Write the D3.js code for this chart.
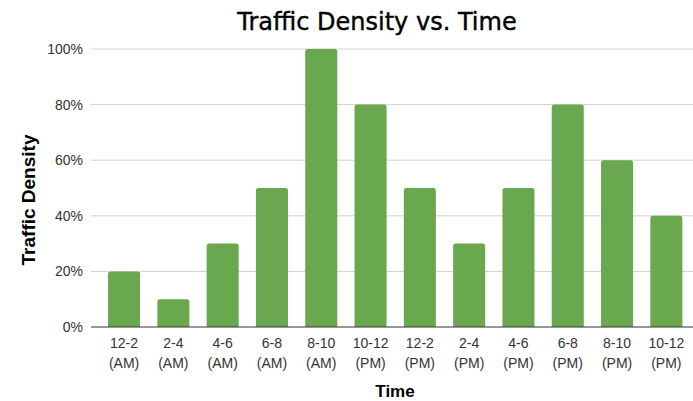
<!DOCTYPE html>
<html><head><meta charset="utf-8">
<script src="https://cdn.jsdelivr.net/npm/d3@7"></script>
<style>body{margin:0;background:#fff}svg{display:block}</style>
</head><body>
<svg id="c" width="693" height="401"></svg>
<script>
const categories = ["12-2 (AM)","2-4 (AM)","4-6 (AM)","6-8 (AM)","8-10 (AM)","10-12 (PM)","12-2 (PM)","2-4 (PM)","4-6 (PM)","6-8 (PM)","8-10 (PM)","10-12 (PM)"];
const values = [20,10,30,50,100,80,50,30,50,80,60,40];
const yTicks = [0,20,40,60,80,100];

const FONT = "'Liberation Sans', Arial, sans-serif";
const svg = d3.select("#c");
const x = d3.scaleBand().domain(d3.range(categories.length)).range([99.4,691]).paddingInner(0.35).paddingOuter(0.175);
const y = d3.scaleLinear().domain([0,100]).range([327,49]);

// grid
svg.append("g").selectAll("line").data(yTicks.filter(d=>d>0)).join("line")
  .attr("x1",91).attr("x2",693).attr("y1",d=>y(d)).attr("y2",d=>y(d))
  .attr("stroke","#d0d0d0").attr("stroke-width",1);

// y labels
const yAxis = d3.axisLeft(y).tickValues(yTicks).tickFormat(d=>d+"%").tickSize(0).tickPadding(8);
const ga = svg.append("g").attr("transform","translate(91,0)").call(yAxis);
ga.select(".domain").remove();
ga.selectAll("text").attr("font-family",FONT).attr("font-size",14).attr("fill","#333");

// bars
const r = 2.5;
svg.append("g").selectAll("path").data(values).join("path")
  .attr("fill","#6aa84f")
  .attr("d",(d,i)=>{
    const x0=x(i), w=x.bandwidth(), y0=y(d), y1=y(0);
    return `M${x0},${y1}V${y0+r}Q${x0},${y0} ${x0+r},${y0}H${x0+w-r}Q${x0+w},${y0} ${x0+w},${y0+r}V${y1}Z`;
  });

// baseline
svg.append("line").attr("x1",91).attr("x2",693).attr("y1",y(0)).attr("y2",y(0)).attr("stroke","#333").attr("stroke-width",1);

// x labels
const gx = svg.append("g");
categories.forEach((c,i)=>{
  const parts = c.split(" ");
  const cx = x(i)+x.bandwidth()/2;
  const t = gx.append("text").attr("text-anchor","middle")
    .attr("font-family",FONT).attr("font-size",14).attr("fill","#333");
  t.append("tspan").attr("x",cx).attr("y",348).text(parts[0]);
  t.append("tspan").attr("x",cx).attr("y",368).text(parts[1]);
});

// titles
svg.append("text").attr("x",377).attr("y",30).attr("text-anchor","middle")
  .attr("font-family","'DejaVu Sans', sans-serif").attr("font-size",24).attr("fill","#000")
  .attr("stroke","#000").attr("stroke-width",0.4)
  .text("Traffic Density vs. Time");
svg.append("text").attr("transform","translate(35,200) rotate(-90)").attr("text-anchor","middle")
  .attr("font-family",FONT).attr("font-size",19).attr("font-weight","bold").attr("fill","#000")
  .text("Traffic Density");
svg.append("text").attr("x",395).attr("y",397).attr("text-anchor","middle")
  .attr("font-family",FONT).attr("font-size",17).attr("font-weight","bold").attr("fill","#000")
  .text("Time");
</script>
</body></html>
